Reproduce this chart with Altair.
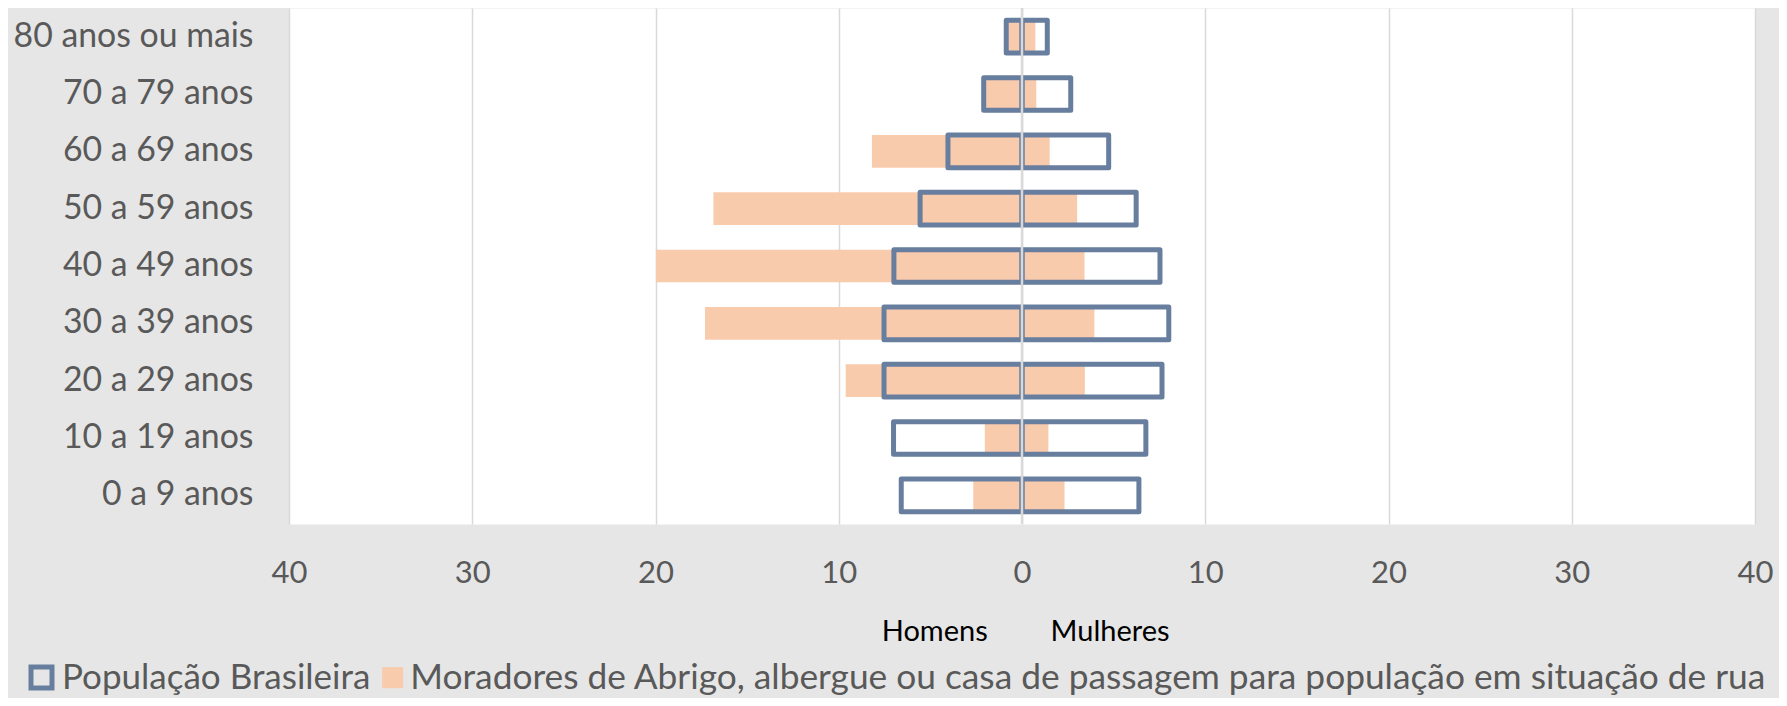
import altair as alt
import pandas as pd

faixas = ["80 anos ou mais", "70 a 79 anos", "60 a 69 anos", "50 a 59 anos",
          "40 a 49 anos", "30 a 39 anos", "20 a 29 anos", "10 a 19 anos", "0 a 9 anos"]
pop_homens = [0.86, 2.09, 4.04, 5.56, 6.99, 7.53, 7.53, 7.01, 6.59]
pop_mulheres = [1.38, 2.66, 4.73, 6.23, 7.53, 8.01, 7.64, 6.76, 6.38]
abrigo_homens = [0.75, 2.0, 8.19, 16.84, 19.98, 17.3, 9.62, 2.03, 2.66]
abrigo_mulheres = [0.73, 0.78, 1.51, 3.01, 3.41, 3.95, 3.43, 1.44, 2.32]
x_ticks = [-40, -30, -20, -10, 0, 10, 20, 30, 40]
serie_pop = "População Brasileira"
serie_abrigo = "Moradores de Abrigo, albergue ou casa de passagem para população em situação de rua"
sexo_labels = ["Homens", "Mulheres"]

BLUE = "#687E9F"
PEACH = "#F8CBAD"
TXT = "#595959"
FONT = "Lato"


def build(men, women, serie):
    rows = []
    for f, h, m in zip(faixas, men, women):
        rows.append({"faixa": f, "ini": 0, "fim": -h, "serie": serie})
        rows.append({"faixa": f, "ini": 0, "fim": m, "serie": serie})
    return pd.DataFrame(rows)


df_pop = build(pop_homens, pop_mulheres, serie_pop)
df_abr = build(abrigo_homens, abrigo_mulheres, serie_abrigo)

x_enc = alt.X("ini:Q", scale=alt.Scale(domain=[-40, 40], nice=False, zero=False),
              axis=alt.Axis(values=x_ticks, labelExpr="abs(datum.value)", domain=False,
                            ticks=False, tickSize=0, grid=True, gridColor="#D9D9D9",
                            gridWidth=1.5, labelFontSize=31, labelColor=TXT, labelFont=FONT,
                            labelPadding=34, labelFlush=False, labelOverlap=False,
                            title=None))
y_enc = alt.Y("faixa:N", sort=faixas,
              scale=alt.Scale(paddingInner=0.43, paddingOuter=0.215),
              axis=alt.Axis(domain=False, ticks=False, tickSize=0, grid=False,
                            labelFontSize=33.8, labelColor=TXT, labelFont=FONT,
                            labelPadding=36, labelLimit=1000, title=None))

LEG_Y = 652

abr = alt.Chart(df_abr).mark_bar(cornerRadius=0).encode(
    x=x_enc, x2="fim:Q", y=y_enc,
    fill=alt.Fill("serie:N", scale=alt.Scale(domain=[serie_abrigo], range=[PEACH]),
                  legend=alt.Legend(orient="none", legendX=86, legendY=LEG_Y,
                                    direction="horizontal", title=None,
                                    symbolType="square", symbolSize=441,
                                    symbolStrokeWidth=0, labelFontSize=35.3,
                                    labelColor=TXT, labelFont=FONT, labelLimit=3000,
                                    labelOffset=0, padding=0)),
)

pop = alt.Chart(df_pop).mark_bar(filled=False, strokeWidth=5, strokeJoin="round").encode(
    x=x_enc, x2="fim:Q", y=y_enc,
    stroke=alt.Stroke("serie:N", scale=alt.Scale(domain=[serie_pop], range=[BLUE]),
                      legend=alt.Legend(orient="none", legendX=-265, legendY=LEG_Y,
                                        direction="horizontal", title=None,
                                        symbolType="square", symbolSize=441,
                                        symbolStrokeWidth=5, labelFontSize=35,
                                        labelColor=TXT, labelFont=FONT, labelLimit=3000,
                                        labelOffset=3, padding=0)),
)

zero = alt.Chart(pd.DataFrame({"v": [0]})).mark_rule(color="#D9D9D9", strokeWidth=2.5).encode(
    x=alt.X("v:Q")
)

sexo_df = pd.DataFrame({"t": sexo_labels, "pos": [-1.87, 1.56]})
homens = alt.Chart(sexo_df.iloc[[0]]).mark_text(
    align="right", baseline="middle", fontSize=29, font=FONT, color="black"
).encode(x="pos:Q", y=alt.value(624), text="t:N")
mulheres = alt.Chart(sexo_df.iloc[[1]]).mark_text(
    align="left", baseline="middle", fontSize=29, font=FONT, color="black"
).encode(x="pos:Q", y=alt.value(624), text="t:N")

chart = alt.layer(abr, pop, zero, homens, mulheres).resolve_scale(
    fill="independent", stroke="independent"
).properties(
    width=1466, height=516,
    padding={"left": 281, "top": 0, "right": 24, "bottom": 174},
    autosize=alt.AutoSizeParams(type="none"),
    background="#E6E6E6",
).configure_view(fill="white", stroke="transparent")

chart.save("out.html", embed_options={"renderer": "svg", "actions": False})
